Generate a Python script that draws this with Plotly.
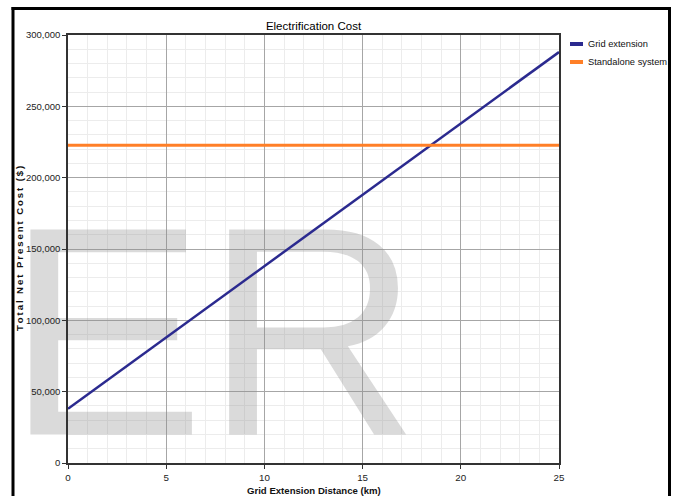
import plotly.graph_objects as go

# ---- data ----
distance_km = [0, 5, 10, 15, 20, 25]
grid_extension_cost = [38000, 88000, 138000, 188000, 238000, 288000]
standalone_x = [0, 25]
standalone_cost = [222800, 222800]
series_names = ["Grid extension", "Standalone system"]
series_colors = ["#2B2A8F", "#FF7F27"]

SANS = "Liberation Sans, Arial, sans-serif"

W, H = 674, 496
PLOT_L, PLOT_R, PLOT_T, PLOT_B = 68, 559, 35, 463  # page pixels
ML, MR, MT, MB = PLOT_L, W - PLOT_R, PLOT_T, H - PLOT_B
PW, PH = PLOT_R - PLOT_L, PLOT_B - PLOT_T


def px_x(px):
    return (px - PLOT_L) / PW


def px_y(py):
    return (PLOT_B - py) / PH


fig = go.Figure()

# watermark (decoration, below the data lines)
fig.add_trace(go.Scatter(
    x=[7.38], y=[72200], mode="text", text=["ER"],
    textposition="middle center",
    textfont=dict(family=SANS, size=298, color="rgba(140,140,140,0.32)"),
    cliponaxis=False, hoverinfo="skip", showlegend=False,
))

fig.add_trace(go.Scatter(
    x=distance_km, y=grid_extension_cost, mode="lines", name=series_names[0],
    line=dict(color=series_colors[0], width=2.5), showlegend=False,
))
fig.add_trace(go.Scatter(
    x=standalone_x, y=standalone_cost, mode="lines", name=series_names[1],
    line=dict(color=series_colors[1], width=3), showlegend=False,
))

shapes = []
annotations = []
# manual legend
for i, (name, col) in enumerate(zip(series_names, series_colors)):
    ypx = 44 + i * 18
    shapes.append(dict(type="line", xref="paper", yref="paper",
                       x0=px_x(570), x1=px_x(583), y0=px_y(ypx), y1=px_y(ypx),
                       line=dict(color=col, width=4)))
    annotations.append(dict(xref="paper", yref="paper", x=px_x(585.5), y=px_y(ypx),
                            xanchor="left", yanchor="middle", text=name, showarrow=False,
                            font=dict(family=SANS, size=9.3, color="#111")))

# axis titles
ytitle = "\u2009".join("Total Net Present Cost ($)").replace(" ", "\u00a0")
annotations.append(dict(xref="paper", yref="paper", x=px_x(19), y=px_y(249),
                        xanchor="center", yanchor="middle", textangle=-90,
                        text="<b>" + ytitle + "</b>", showarrow=False,
                        font=dict(family=SANS, size=9.6, color="#111")))
annotations.append(dict(xref="paper", yref="paper", x=px_x(314), y=px_y(490),
                        xanchor="center", yanchor="middle",
                        text="<b>Grid Extension Distance (km)</b>", showarrow=False,
                        font=dict(family=SANS, size=9.6, color="#111")))

# outer black frame (left, top, right edges; bottom is off the page)
frame = dict(color="black", width=3)
shapes.append(dict(type="line", xref="paper", yref="paper",
                   x0=px_x(13), x1=px_x(13), y0=px_y(7), y1=px_y(500), line=frame))
shapes.append(dict(type="line", xref="paper", yref="paper",
                   x0=px_x(11.5), x1=px_x(670.5), y0=px_y(8.5), y1=px_y(8.5), line=frame))
shapes.append(dict(type="line", xref="paper", yref="paper",
                   x0=px_x(669.5), x1=px_x(669.5), y0=px_y(7), y1=px_y(500), line=frame))

fig.update_layout(
    width=W, height=H,
    margin=dict(l=ML, r=MR, t=MT, b=MB, autoexpand=False),
    paper_bgcolor="white", plot_bgcolor="white",
    title=dict(text="Electrification Cost", x=0.5, xref="paper", xanchor="center",
               y=1 - 26 / H, yanchor="middle",
               font=dict(family=SANS, size=11.5, color="black")),
    shapes=shapes, annotations=annotations,
    showlegend=False,
)

fig.update_xaxes(
    range=[0, 25], dtick=5, tick0=0,
    showgrid=True, gridcolor="#a6a6a6", gridwidth=1,
    minor=dict(dtick=1, showgrid=True, gridcolor="#ececec", gridwidth=1),
    showline=True, mirror=True, linecolor="#333", linewidth=1.5,
    ticks="outside", ticklen=4, tickcolor="#333",
    tickfont=dict(family=SANS, size=9.8, color="#222"),
    zeroline=False, automargin=False,
)
fig.update_yaxes(
    range=[0, 300000], dtick=50000, tick0=0, tickformat=",",
    showgrid=True, gridcolor="#a6a6a6", gridwidth=1,
    minor=dict(dtick=10000, showgrid=True, gridcolor="#ececec", gridwidth=1),
    showline=True, mirror=True, linecolor="#333", linewidth=1.5,
    ticks="outside", ticklen=4, tickcolor="#333",
    tickfont=dict(family=SANS, size=9.5, color="#222"),
    zeroline=False, automargin=False,
)

fig.write_html(
    "out.html",
    config={"displayModeBar": False},
    post_script="document.documentElement.style.overflow='hidden';"
                "document.body.style.margin='0';document.body.style.overflow='hidden';",
)
